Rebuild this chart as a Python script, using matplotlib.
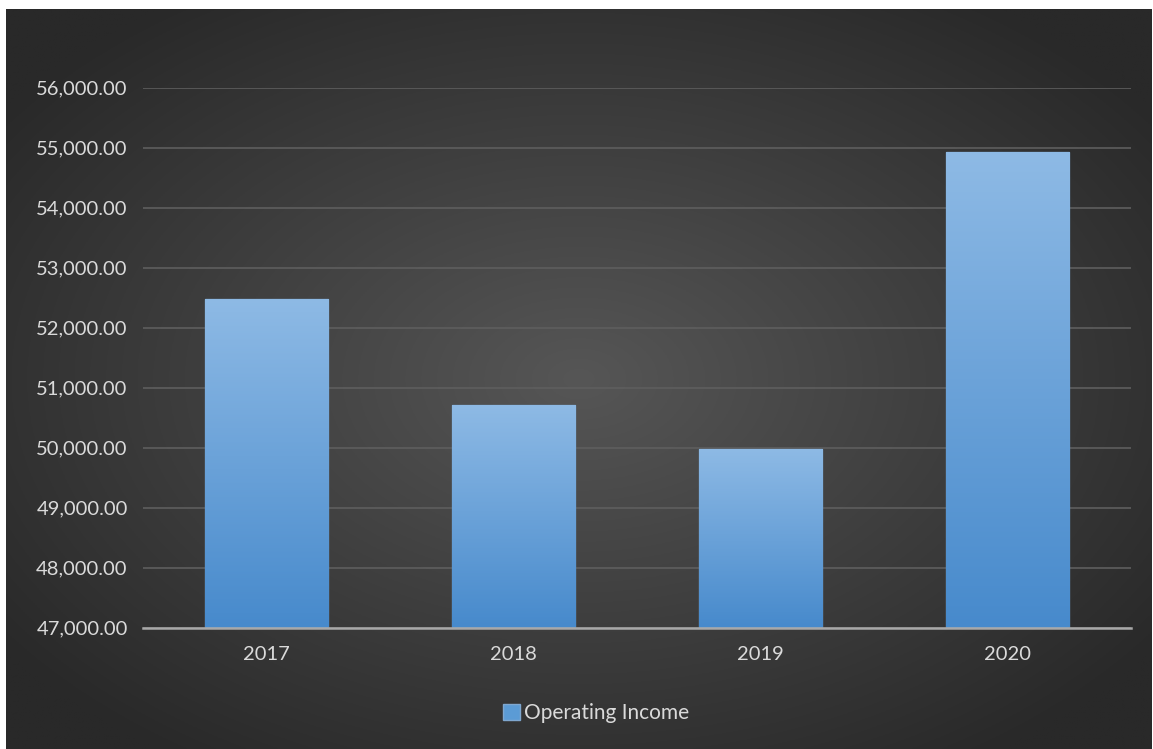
import numpy as np
import matplotlib
matplotlib.use("Agg")
import matplotlib.pyplot as plt
from matplotlib.patches import Patch
from matplotlib.ticker import FuncFormatter

years = ["2017", "2018", "2019", "2020"]
operating_income = [52475, 50710, 49970, 54925]
series_name = "Operating Income"
y_min, y_max, y_step = 47000, 56000, 1000

W, H = 1153, 749
fig = plt.figure(figsize=(W / 100, H / 100), dpi=100, facecolor="white")
plt.rcParams["font.family"] = ["Lato", "DejaVu Sans"]
text_color = "#dadada"
font_size = 14.5

# radial dark-gray backdrop
bg = fig.add_axes([6 / W, 0, 1 - 7 / W, 1 - 9 / H])
bg.set_axis_off()
gx, gy = np.meshgrid(np.linspace(0, 1, 600), np.linspace(0, 1, 400))
cx, cy = 0.50, 0.50
r = np.sqrt(((gx - cx) / 0.62) ** 2 + ((gy - cy) / 0.62) ** 2)
r = np.clip(r, 0, 1)
inner = np.array([0x56, 0x56, 0x56]) / 255
outer = np.array([0x29, 0x29, 0x29]) / 255
img = inner[None, None, :] * (1 - r[..., None]) + outer[None, None, :] * r[..., None]
bg.imshow(img, extent=[0, 1, 0, 1], aspect="auto", origin="lower")
bg.set_xlim(0, 1)
bg.set_ylim(0, 1)

ax = fig.add_axes([143 / W, 1 - 627.5 / H, (1131 - 143) / W, (627.5 - 87.7) / H])
ax.patch.set_alpha(0)
x = np.arange(len(years))
ax.set_yticks(np.arange(y_min, y_max + 1, y_step))
ax.yaxis.set_major_formatter(FuncFormatter(lambda v, p: f"{v:,.2f}"))
ax.set_xticks(x)
ax.set_xticklabels(years)
ax.grid(axis="y", color="#5e5e5e", linewidth=1.2)
ax.set_axisbelow(True)
for s in ["top", "right", "left"]:
    ax.spines[s].set_visible(False)
ax.spines["bottom"].set_color("#a8a8a8")
ax.spines["bottom"].set_linewidth(1.8)
ax.tick_params(axis="both", length=0, colors=text_color, labelsize=font_size)
ax.tick_params(axis="y", pad=11)
ax.tick_params(axis="x", pad=13)

# vertical gradient fill for bars
top_c = np.array([0x8e, 0xba, 0xe5]) / 255
bot_c = np.array([0x47, 0x8a, 0xcc]) / 255
bars = ax.bar(x, operating_income, width=0.5, bottom=0, color="#5b9bd5",
              edgecolor="#6a8fb3", linewidth=1.0, zorder=2)
for b, v in zip(bars, operating_income):
    x0 = b.get_x()
    x1 = x0 + b.get_width()
    t = np.linspace(0, 1, 256)[:, None]
    grad = bot_c[None, None, :] * (1 - t[..., None]) + top_c[None, None, :] * t[..., None]
    grad = np.repeat(grad, 2, axis=1)
    im = ax.imshow(grad, extent=[x0, x1, y_min, v], origin="lower",
                   aspect="auto", zorder=2.5)
    im.set_clip_path(b)
ax.set_xlim(-0.5, len(years) - 0.5)
ax.set_ylim(y_min, y_max)

leg = fig.legend(handles=[Patch(facecolor="#5b9bd5", edgecolor="#7fa7cf", label=series_name)],
                 loc="center", bbox_to_anchor=(596 / W, 1 - 713 / H), frameon=False,
                 handlelength=0.8, handleheight=0.8, handletextpad=0.2,
                 fontsize=font_size + 0.5, labelcolor=text_color)

fig.savefig("out.png", dpi=100, facecolor="white")
